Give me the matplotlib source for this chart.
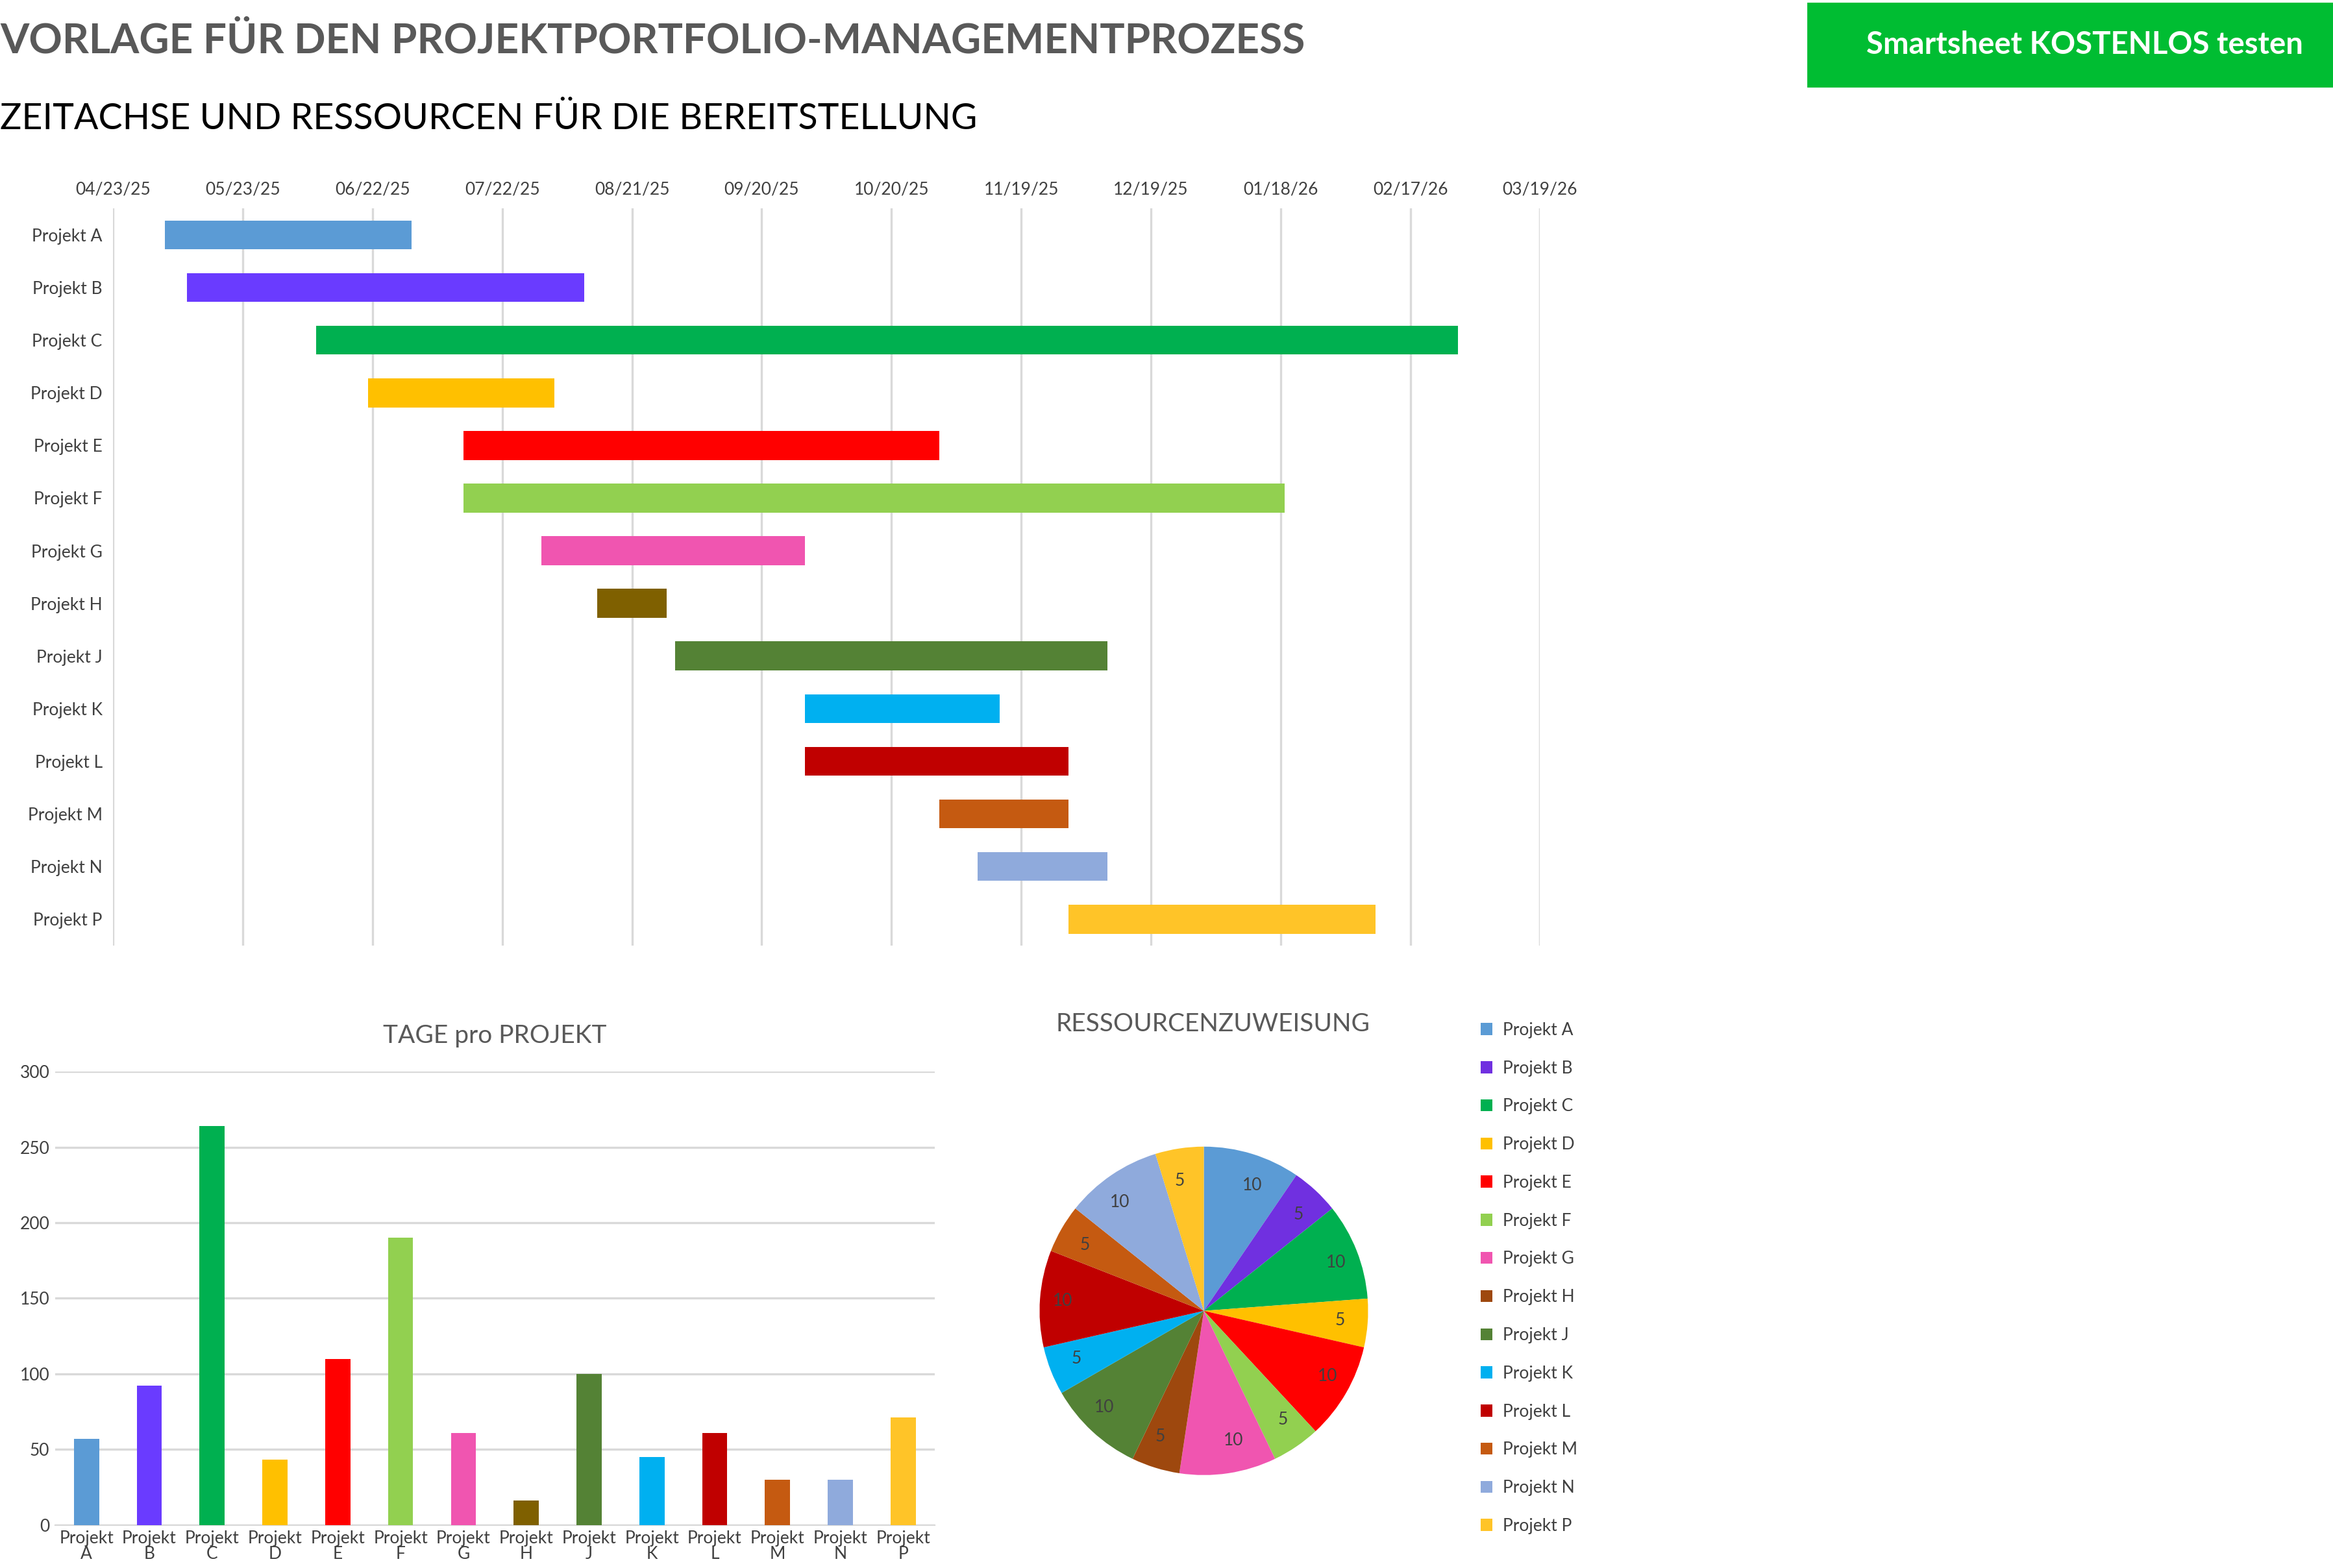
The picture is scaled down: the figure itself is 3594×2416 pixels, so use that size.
import matplotlib.pyplot as plt
import matplotlib.dates as mdates
import numpy as np
import datetime as dt

plt.rcParams['font.family'] = 'Lato'

projects = ['Projekt A', 'Projekt B', 'Projekt C', 'Projekt D', 'Projekt E', 'Projekt F', 'Projekt G',
            'Projekt H', 'Projekt J', 'Projekt K', 'Projekt L', 'Projekt M', 'Projekt N', 'Projekt P']
starts = ['2025-05-05', '2025-05-10', '2025-06-09', '2025-06-21', '2025-07-13', '2025-07-13', '2025-07-31',
          '2025-08-13', '2025-08-31', '2025-09-30', '2025-09-30', '2025-10-31', '2025-11-09', '2025-11-30']
days = [57, 92, 264, 43, 110, 190, 61, 16, 100, 45, 61, 30, 30, 71]
resources = [10, 5, 10, 5, 10, 5, 10, 5, 10, 5, 10, 5, 10, 5]

gantt_colors = ['#5B9BD5', '#6A3BFF', '#00B050', '#FFC000', '#FF0000', '#92D050', '#F055B0',
                '#7F6000', '#548235', '#00B0F0', '#C00000', '#C55A11', '#8FAADC', '#FFC428']
pie_colors = gantt_colors.copy()
pie_colors[1] = '#7030E0'
pie_colors[7] = '#9E480E'

fig = plt.figure(figsize=(17.97, 12.08), dpi=200)

fig.text(0.0, 0.974, 'VORLAGE FÜR DEN PROJEKTPORTFOLIO-MANAGEMENTPROZESS', fontsize=23,
         fontweight='bold', color='#595959', va='center', ha='left')
fig.text(0.0, 0.924, 'ZEITACHSE UND RESSOURCEN FÜR DIE BEREITSTELLUNG', fontsize=20,
         color='black', va='center', ha='left')
fig.patches.append(plt.Rectangle((0.775, 0.945), 0.225, 0.053, transform=fig.transFigure,
                                 color='#00BD32', zorder=0))
fig.text(0.8, 0.9715, 'Smartsheet KOSTENLOS testen', fontsize=17, fontweight='bold',
         color='white', va='center', ha='left', clip_on=True)

# Gantt
ax = fig.add_axes([0.0485, 0.397, 0.6116, 0.470])
s = [mdates.datestr2num(d) for d in starts]
ax.barh(range(len(projects)), days, left=s, height=0.55, color=gantt_colors, zorder=3)
t0 = dt.date(2025, 4, 23)
ticks = [t0 + dt.timedelta(days=30 * i) for i in range(12)]
ax.set_xticks(mdates.date2num(ticks))
ax.set_xticklabels([t.strftime('%m/%d/%y') for t in ticks])
ax.set_xlim(mdates.date2num(ticks[0]), mdates.date2num(ticks[-1]))
ax.set_ylim(13.5, -0.5)
ax.set_yticks(range(len(projects)))
ax.set_yticklabels(projects)
ax.xaxis.tick_top()
ax.grid(axis='x', color='#D9D9D9', linewidth=1.2, zorder=0)
for sp in ax.spines.values():
    sp.set_visible(False)
ax.tick_params(length=0, labelsize=9.5, colors='#404040', pad=6)

# Bar chart
bx = fig.add_axes([0.0236, 0.0275, 0.377, 0.289])
bx.bar(range(len(projects)), days, width=0.4, color=gantt_colors, zorder=3)
bx.set_xlim(-0.5, 13.5)
bx.set_ylim(0, 300)
bx.set_yticks(range(0, 301, 50))
bx.set_xticks(range(len(projects)))
bx.set_xticklabels([p.replace(' ', '\n') for p in projects], linespacing=0.95)
bx.grid(axis='y', color='#D9D9D9', linewidth=1.2, zorder=0)
for sp in bx.spines.values():
    sp.set_visible(False)
bx.spines['bottom'].set_visible(True)
bx.spines['bottom'].set_color('#D9D9D9')
bx.tick_params(length=0, labelsize=9.5, colors='#404040', pad=3)
bx.set_title('TAGE pro PROJEKT', fontsize=14, color='#595959', pad=16)

# Pie
px = fig.add_axes([0.428, 0.033, 0.176, 0.262])
wedges, texts = px.pie(resources, colors=pie_colors, startangle=90, counterclock=False,
                       labels=[str(r) for r in resources], labeldistance=0.8,
                       textprops={'fontsize': 9.5, 'color': '#404040'})
px.set_aspect('equal')
fig.text(0.52, 0.347, 'RESSOURCENZUWEISUNG', fontsize=14, color='#595959', ha='center', va='center')
fig.legend(wedges, projects, loc='upper left', bbox_to_anchor=(0.628, 0.358), frameon=False,
           fontsize=9.5, handlelength=0.7, handleheight=0.7, labelspacing=1.28,
           labelcolor='#404040', handletextpad=0.6)

fig.savefig('out.png', dpi=200)
